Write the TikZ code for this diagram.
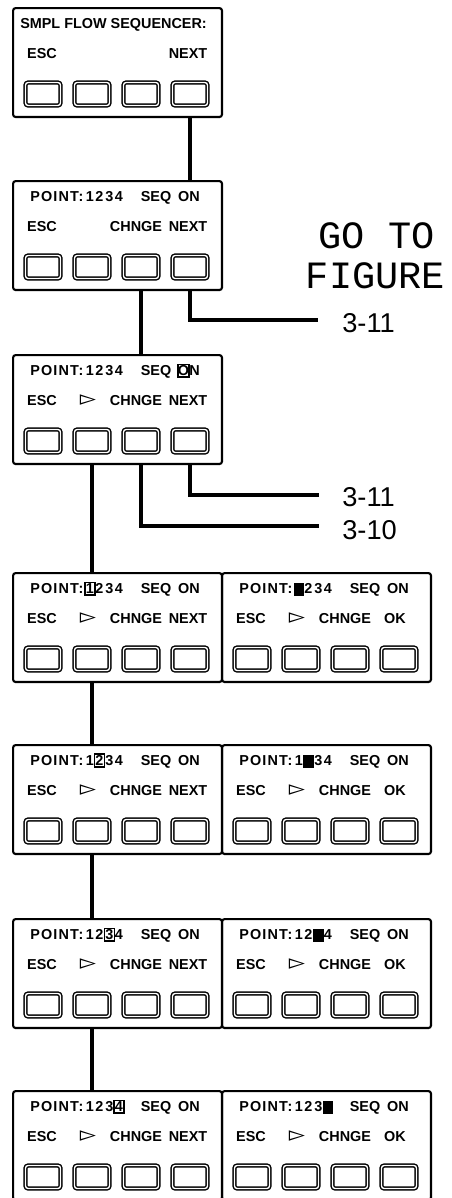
\documentclass[tikz,border=0pt]{standalone}
\usepackage{fontspec}
\usepackage{tikz}
\usetikzlibrary{calc}
\newfontfamily\lcdfont{Liberation Sans}
\newfontfamily\lcdwide[LetterSpace=8]{Liberation Sans}
\newfontfamily\symfont{DejaVu Sans}
\newfontfamily\figfont{Liberation Mono}
\tikzstyle{panel}=[draw,line width=1.2pt,rounded corners=1.5pt,minimum width=4.18cm,minimum height=2.18cm,inner sep=0pt,anchor=north west]
\tikzstyle{key}=[draw,double,double distance=0.8pt,line width=0.8pt,rounded corners=1.5pt,minimum width=0.70cm,minimum height=0.46cm,inner sep=0pt]
\tikzstyle{lcd}=[font=\lcdfont\bfseries\fontsize{8.2}{9}\selectfont,inner sep=0pt,anchor=base]
\tikzstyle{arrowsym}=[font=\symfont\fontsize{12}{12}\selectfont,inner sep=0pt,anchor=base]
\tikzstyle{cursorbox}=[draw,line width=0.9pt,minimum width=0.2cm,minimum height=0.25cm,inner sep=0pt]
\tikzstyle{cursorblock}=[fill=black,minimum width=0.21cm,minimum height=0.26cm,inner sep=0pt]
\tikzstyle{wire}=[draw,line width=2.7pt]
\tikzstyle{figtext}=[font=\figfont\fontsize{22}{22}\selectfont,inner sep=0pt,anchor=base]
\tikzstyle{reftext}=[font=\lcdfont\fontsize{15.5}{16}\selectfont,inner sep=0pt,anchor=base west]

\begin{document}
\begin{tikzpicture}[x=0.02cm,y=-0.02cm]

  \useasboundingbox (0,0) rectangle (451,1198);

% Panels
    \foreach \name/\top in {p1/7,p2/180,p3/354,p4/572,p5/744,p6/918,p7/1090}
        \node[panel] (\name) at (12,\top) {};
    \foreach \name/\top in {q4/572,q5/744,q6/918,q7/1090}
        \node[panel] (\name) at (221,\top) {};

% Soft keys
    \foreach \name/\left/\top in {p1/12/7,p2/12/180,p3/12/354,p4/12/572,p5/12/744,p6/12/918,p7/12/1090,q4/221/572,q5/221/744,q6/221/918,q7/221/1090}
        \foreach \i in {1,...,4}
            \node[key] (\name k\i) at (\left+49*\i-18,\top+87) {};

% Key labels
    \foreach \name/\left/\top in {p1/12/7,p2/12/180,p3/12/354,p4/12/572,p5/12/744,p6/12/918,p7/12/1090,q4/221/572,q5/221/744,q6/221/918,q7/221/1090}
        \node[lcd] (\name esc) at (\left+30,\top+51) {ESC};
    \foreach \name/\left/\top in {p3/12/354,p4/12/572,p5/12/744,p6/12/918,p7/12/1090,q4/221/572,q5/221/744,q6/221/918,q7/221/1090}
        \node[arrowsym] (\name arw) at (\left+76,\top+51) {▻};
    \foreach \name/\left/\top in {p2/12/180,p3/12/354,p4/12/572,p5/12/744,p6/12/918,p7/12/1090,q4/221/572,q5/221/744,q6/221/918,q7/221/1090}
        \node[lcd] (\name chg) at (\left+124,\top+51) {CHNGE};
    \foreach \name/\left/\top in {p1/12/7,p2/12/180,p3/12/354,p4/12/572,p5/12/744,p6/12/918,p7/12/1090}
        \node[lcd] (\name nxt) at (\left+176,\top+51) {NEXT};
    \foreach \name/\left/\top in {q4/221/572,q5/221/744,q6/221/918,q7/221/1090}
        \node[lcd] (\name ok) at (\left+174,\top+51) {OK};

% Display lines
    \node[lcd] (title) at (113.5,28.5) {SMPL FLOW SEQUENCER:};
    \foreach \name/\left/\top in {p2/12/180,p3/12/354,p4/12/572,p5/12/744,p6/12/918,p7/12/1090,q4/221/572,q5/221/744,q6/221/918,q7/221/1090}
    {
        \node[lcd,font=\lcdwide\bfseries\fontsize{8.2}{9}\selectfont,anchor=base west] (\name pt) at (\left+18,\top+21.5) {POINT:};
        \node[lcd] (\name seq) at (\left+144,\top+21.5) {SEQ};
    }
    \foreach \name/\left/\top in {p2/12/180,p4/12/572,p5/12/744,p6/12/918,p7/12/1090,q4/221/572,q5/221/744,q6/221/918,q7/221/1090}
        \node[lcd] (\name on) at (\left+177,\top+21.5) {ON};
    \node[lcd,cursorbox] (p3o) at (183.5,375.5) {O};
    \node[lcd] (p3n) at (194.5,375.5) {N};

% Digits, cursor on digit \cur
    \foreach \name/\left/\top/\cur in {p2/12/180/0,p3/12/354/0,p4/12/572/1,p5/12/744/2,p6/12/918/3,p7/12/1090/4}
        \foreach \d/\dx in {1/78,2/87.5,3/97.5,4/107}
        {
            \ifnum\d=\cur
                \node[lcd,cursorbox] (\name d\d) at (\left+\dx,\top+21.5) {\d};
            \else
                \node[lcd] (\name d\d) at (\left+\dx,\top+21.5) {\d};
            \fi
        }
    \foreach \name/\left/\top/\cur in {q4/221/572/1,q5/221/744/2,q6/221/918/3,q7/221/1090/4}
        \foreach \d/\dx in {1/78,2/87.5,3/97.5,4/107}
        {
            \ifnum\d=\cur
                \node[cursorblock] (\name d\d) at (\left+\dx,\top+17.5) {};
            \else
                \node[lcd] (\name d\d) at (\left+\dx,\top+21.5) {\d};
            \fi
        }

% Figure references
    \node[figtext] (goto) at (376.5,248) {GO TO};
    \node[figtext] (figure) at (375.5,288) {FIGURE};
    \node[reftext] (ref1) at (342,332) {3-11};
    \node[reftext] (ref2) at (342,506) {3-11};
    \node[reftext] (ref3) at (342,539) {3-10};
    \coordinate (g1) at (318,320);
    \coordinate (g2) at (319,495);
    \coordinate (g3) at (319,526);

% Connections
    \draw[wire] (p1k4 |- p1.south) -- (p1k4 |- p2.north);
    \draw[wire] (p2k3 |- p2.south) -- (p2k3 |- p3.north);
    \draw[wire] (p2k4 |- p2.south) |- (g1);
    \draw[wire] (p3k2 |- p3.south) -- (p3k2 |- p4.north);
    \draw[wire] (p3k4 |- p3.south) |- (g2);
    \draw[wire] (p3k3 |- p3.south) |- (g3);
    \foreach \a/\b in {p4/p5,p5/p6,p6/p7}
        \draw[wire] (\a k2 |- \a.south) -- (\a k2 |- \b.north);

\end{tikzpicture}
\end{document}
